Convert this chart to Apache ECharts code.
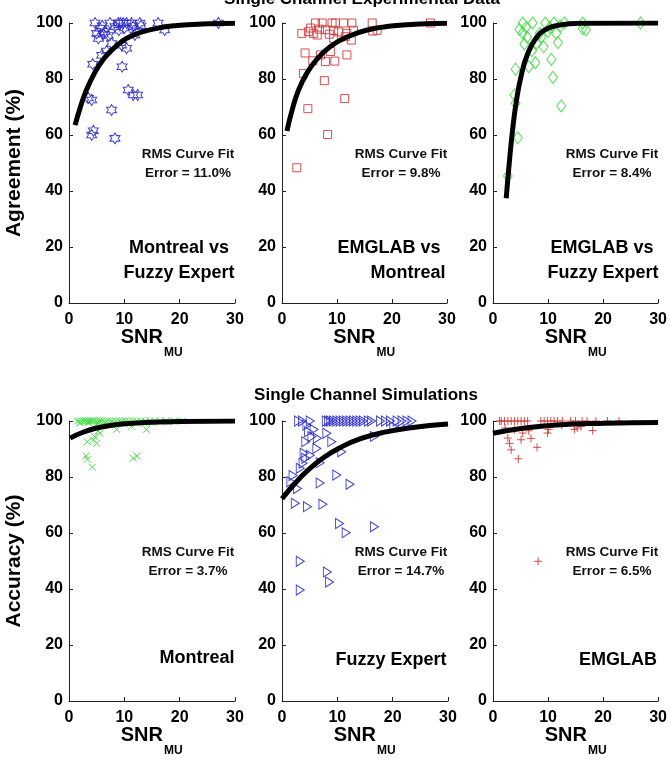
<!DOCTYPE html>
<html><head><meta charset="utf-8">
<script src="https://cdn.jsdelivr.net/npm/echarts@6/dist/echarts.min.js"></script>
<style>html,body{margin:0;padding:0;background:#fff}#c{width:670px;height:761px}</style>
</head><body><div id="c"></div>
<script>
// ---- values: [SNR_MU, % agreement / accuracy] ----
const montrealVsFuzzy = [[4.7,100],[5.6,98.1],[5.0,96.3],[6.5,96.9],[7.4,100],[8.3,98.7],[8.9,100],[9.3,100],[9.8,100],[10.4,100],[11.3,100],[12.8,100],[11.6,98.7],[11.9,95.7],[16.1,100],[17.3,97.5],[27.0,100],[6.2,96.0],[7.1,95.5],[5.9,88.5],[6.8,90.0],[7.7,92.7],[9.5,92.1],[10.4,91.0],[4.3,85.3],[9.6,84.4],[3.5,73.2],[4.1,72.5],[10.7,76.1],[11.6,74.3],[12.4,74.3],[7.7,68.9],[4.4,61.5],[4.1,60.0],[8.3,58.8],[10.0,98.2],[12.3,97.2],[13.0,99.0],[9.0,97.4],[6.0,99.0],[5.3,94.5]];
const emglabVsMontreal = [[2.7,48.3],[8.3,60.2],[4.7,69.4],[11.4,73.0],[7.7,79.4],[3.9,82.0],[4.2,89.3],[7.0,88.6],[5.6,86.5],[8.8,89.8],[7.9,86.2],[9.6,86.4],[11.8,88.6],[12.6,93.9],[3.6,96.3],[4.8,96.9],[5.7,96.3],[6.4,95.7],[6.1,100],[7.3,100],[9.1,100],[9.7,100],[11.2,100],[12.7,100],[16.4,100],[27.0,100],[7.9,97.6],[9.4,97.4],[10.3,96.8],[11.8,96.3],[13.0,97.4],[16.5,97.1],[17.3,97.4],[11.5,95.1],[9.4,94.5],[5.2,98.2],[6.8,97.8],[8.6,96.0]];
const emglabVsFuzzy = [[2.7,45.4],[4.5,59.0],[3.9,74.3],[4.1,71.3],[4.1,83.5],[6.5,84.4],[7.7,85.8],[10.6,87.0],[10.9,80.6],[12.4,70.4],[7.1,90.1],[9.2,91.5],[11.8,93.0],[5.4,96.5],[4.8,97.7],[5.4,100],[7.2,100],[9.5,100],[11.1,100],[13.0,100],[16.3,100],[26.8,100],[8.5,96.3],[10.0,97.0],[11.5,96.3],[16.9,97.5],[16.3,98.0],[6.2,94.9],[7.9,92.7],[6.0,98.5],[8.8,95.0],[10.3,98.5],[12.2,99.0],[5.7,92.5]];

const simMontreal = [[1.5,100],[1.9,100],[2.3,100],[2.7,100],[3.0,100],[3.3,100],[3.6,100],[4.0,100],[4.3,100],[4.6,100],[5.0,100],[5.4,100],[5.8,100],[6.3,100],[6.8,100],[7.3,100],[7.8,100],[8.4,100],[9.0,100],[9.6,100],[10.2,100],[10.9,100],[11.5,100],[12.2,100],[13.0,100],[13.8,100],[14.6,100],[15.5,100],[16.5,100],[17.5,100],[19.0,100],[20.5,100],[2.0,99.3],[3.5,99.4],[5.2,99.2],[6.5,99.3],[8.0,99.0],[9.5,99.4],[11.0,99.2],[13.5,99.3],[15.0,99.5],[18.0,99.6],[3.3,92.6],[4.4,93.2],[5.0,92.0],[5.6,95.6],[3.1,87.5],[3.3,86.3],[4.2,83.5],[11.6,86.7],[12.3,87.5],[8.6,97.0],[11.3,98.0],[14.0,97.0],[4.6,94.5],[5.3,96.5]];
const simFuzzy = [[3.0,100],[3.7,100],[5.1,100],[8.0,100],[8.4,100],[8.8,100],[9.3,100],[9.9,100],[10.5,100],[11.1,100],[11.7,100],[12.3,100],[12.9,100],[13.5,100],[14.1,100],[14.7,100],[15.6,100],[16.2,100],[17.8,100],[18.7,100],[19.6,100],[20.8,100],[21.7,100],[22.6,100],[23.5,100],[4.8,96.2],[4.3,92.6],[5.4,94.4],[6.4,93.8],[8.1,95.6],[9.0,92.6],[10.8,89.0],[6.3,90.2],[5.1,87.8],[4.3,86.7],[3.8,84.9],[3.3,83.1],[6.9,85.1],[1.6,78.3],[2.8,75.9],[6.9,77.9],[9.9,80.7],[12.3,77.4],[2.4,70.6],[4.6,69.4],[7.4,70.3],[10.4,63.4],[11.6,60.1],[16.7,62.2],[3.3,49.9],[8.2,46.1],[8.6,42.5],[3.3,39.6],[16.7,94.5],[20.2,98.0],[4.5,98.5],[5.8,97.0],[4.0,88.5],[2.0,80.5]];
const simEmglab = [[1.2,100],[1.5,100],[2.1,100],[2.7,100],[3.3,100],[3.9,100],[4.5,100],[5.1,100],[5.7,100],[6.3,100],[8.7,100],[9.3,100],[9.9,100],[10.5,100],[11.1,100],[11.7,100],[12.6,100],[14.1,100],[15.0,100],[16.2,100],[17.1,100],[18.7,100],[20.8,100],[22.9,100],[2.7,93.9],[3.3,89.7],[4.6,86.5],[8.0,90.6],[5.1,93.3],[5.4,95.7],[9.9,95.7],[10.1,97.0],[15.3,97.5],[18.1,96.6],[3.9,96.9],[8.2,49.9],[3.0,92.0],[6.9,93.8],[14.8,97.0],[2.2,97.5],[6.5,96.5],[12.5,98.5],[16.0,98.0]];

// fitted curves, sampled along each drawn line
const fitMontrealVsFuzzyX = [1.1,2,3,4.4,6.2,8.6,11.6,15.2,19.5,25,30];
const fitMontrealVsFuzzyY = [63.5,69.6,75.3,81.3,87.0,91.9,95.6,97.8,99.1,99.7,99.9];
const fitEmglabVsMontrealX = [0.9,1.8,3,4.5,6.4,8.8,11.8,15.5,20.3,25,30];
const fitEmglabVsMontrealY = [61.4,68.6,76.0,82.0,87.2,91.6,95.0,97.5,99.0,99.6,99.9];
const fitEmglabVsFuzzyX = [2.4,3,3.6,4.2,5.1,6.3,7.9,9.7,12.1,16,30];
const fitEmglabVsFuzzyY = [37.4,51,62.5,71.5,81.0,89.0,94.8,97.8,99.3,99.9,100];
const fitSimMontrealX = [0.2,2.3,4.8,7.8,10,13.8,20,30];
const fitSimMontrealY = [93.9,95.8,97.4,98.5,99,99.5,99.8,100];
const fitSimFuzzyX = [0,2.2,4.6,7.3,10.3,14.2,18.8,23.3,30];
const fitSimFuzzyY = [72.2,77.4,82.3,86.6,90.3,93.7,96.1,97.6,98.9];
const fitSimEmglabX = [0,5.4,11.5,20.5,30];
const fitSimEmglabY = [95.6,97.4,98.6,99.2,99.5];

const rmsErrors = ['11.0%','9.8%','8.4%','3.7%','14.7%','6.5%'];
const panelLabels = [['Montreal vs','Fuzzy Expert'],['EMGLAB vs','Montreal'],['EMGLAB vs','Fuzzy Expert'],['Montreal'],['Fuzzy Expert'],['EMGLAB']];
const rowTitles = ['Single Channel Experimental Data','Single Channel Simulations'];
const yNames = ['Agreement (%)','Accuracy (%)'];
const xTicks = [0,10,20,30];
const yTicks = [0,20,40,60,80,100];

const FONT = '"Liberation Sans", Arial, Helvetica, sans-serif';
const BLUE = '#2f2fc8', RED = '#d23a3a', GREEN = '#3ddc3d';

const hexagram = 'path://M0,-10L-2.89,-5L-8.66,-5L-5.77,0L-8.66,5L-2.89,5L0,10L2.89,5L8.66,5L5.77,0L8.66,-5L2.89,-5Z';
const crossX = 'path://M0,0L10,10M10,0L0,10';
const plus = 'path://M5,0L5,10M0,5L10,5';
const triRight = 'path://M0,0L10,5L0,10Z';

const panels = [
  {left:69,  top:23,  width:166, height:280},
  {left:282, top:23,  width:165, height:280},
  {left:493, top:23,  width:166, height:280},
  {left:69,  top:421, width:166, height:280},
  {left:282, top:421, width:166, height:280},
  {left:493, top:421, width:166, height:280}
];

const scatterSets = [
  {data: montrealVsFuzzy, symbol: hexagram, size: [10,11], color: BLUE},
  {data: emglabVsMontreal, symbol: 'rect', size: 8, color: RED},
  {data: emglabVsFuzzy, symbol: 'diamond', size: [9,12], color: GREEN},
  {data: simMontreal, symbol: crossX, size: 7, color: GREEN},
  {data: simFuzzy, symbol: triRight, size: [8,10], color: BLUE},
  {data: simEmglab, symbol: plus, size: 8, color: RED}
];
const fits = [
  [fitMontrealVsFuzzyX, fitMontrealVsFuzzyY],
  [fitEmglabVsMontrealX, fitEmglabVsMontrealY],
  [fitEmglabVsFuzzyX, fitEmglabVsFuzzyY],
  [fitSimMontrealX, fitSimMontrealY],
  [fitSimFuzzyX, fitSimFuzzyY],
  [fitSimEmglabX, fitSimEmglabY]
];

const tickLabel = {color:'#000', fontFamily: FONT, fontWeight:'bold', fontSize:16};
const axisLine = {show:true, lineStyle:{color:'#222', width:1}};

const grid = [], xAxis = [], yAxis = [], series = [], graphic = [];

panels.forEach((p, i) => {
  grid.push({left:p.left, top:p.top, width:p.width, height:p.height, containLabel:false});
  xAxis.push({
    gridIndex:i, type:'value', min:0, max:30, interval:10,
    axisLine, axisTick:{show:true, inside:true, length:4, lineStyle:{color:'#222'}},
    axisLabel:{...tickLabel, margin:9, formatter: v => xTicks.includes(v) ? String(v) : ''},
    splitLine:{show:false}
  });
  const firstInRow = i % 3 === 0;
  yAxis.push({
    gridIndex:i, type:'value', min:0, max:100, interval:20,
    axisLine, axisTick:{show:true, inside:true, length:4, lineStyle:{color:'#222'}},
    axisLabel:{...tickLabel, margin:6, formatter: v => yTicks.includes(v) ? String(v) : ''},
    splitLine:{show:false},
    name: firstInRow ? yNames[i/3] : '',
    nameLocation:'middle', nameGap:44, nameRotate:90,
    nameTextStyle:{color:'#000', fontFamily:FONT, fontWeight:'bold', fontSize:21}
  });

  const s = scatterSets[i];
  series.push({
    type:'scatter', xAxisIndex:i, yAxisIndex:i, data:s.data,
    symbol:s.symbol, symbolSize:s.size,
    itemStyle:{color:'rgba(0,0,0,0)', borderColor:s.color, borderWidth:1, opacity:0.9},
    z:2, silent:true
  });
  const fx = fits[i][0], fy = fits[i][1];
  series.push({
    type:'line', xAxisIndex:i, yAxisIndex:i,
    data: fx.map((x, k) => [x, fy[k]]),
    smooth:0.5, showSymbol:false, symbol:'none',
    lineStyle:{color:'#000', width:5, cap:'butt', join:'round'},
    z:3, silent:true
  });

  // x axis name with subscript
  const cx = p.left + p.width / 2;
  const by = p.top + p.height;
  graphic.push({type:'text', x:cx + 11, y:by + 34,
    style:{text:'SNR', fill:'#000', font:'bold 20px ' + FONT, align:'right', verticalAlign:'middle'}});
  graphic.push({type:'text', x:cx + 12, y:by + 50,
    style:{text:'MU', fill:'#000', font:'bold 12px ' + FONT, align:'left', verticalAlign:'middle'}});

  // RMS annotation
  graphic.push({type:'text', x:p.left + 119, y:p.top + 131,
    style:{text:'RMS Curve Fit', fill:'#111', font:'bold 13.5px ' + FONT, align:'center', verticalAlign:'middle'}});
  graphic.push({type:'text', x:p.left + 119, y:p.top + 150,
    style:{text:'Error = ' + rmsErrors[i], fill:'#111', font:'bold 13.5px ' + FONT, align:'center', verticalAlign:'middle'}});
});

// panel labels
const labelPos = [
  [[179,248],[179,273]],
  [[389,248],[408,273]],
  [[602,248],[603,273]],
  [[197,658]],
  [[391,660]],
  [[618,660]]
];
panelLabels.forEach((lines, i) => {
  lines.forEach((t, k) => {
    graphic.push({type:'text', x:labelPos[i][k][0], y:labelPos[i][k][1],
      style:{text:t, fill:'#000', font:'bold 18px ' + FONT, align:'center', verticalAlign:'middle'}});
  });
});

// row titles
graphic.push({type:'text', x:362, y:-1,
  style:{text:rowTitles[0], fill:'#000', font:'bold 17px ' + FONT, align:'center', verticalAlign:'middle'}});
graphic.push({type:'text', x:366, y:395,
  style:{text:rowTitles[1], fill:'#000', font:'bold 17px ' + FONT, align:'center', verticalAlign:'middle'}});

const chart = echarts.init(document.getElementById('c'), null, {renderer:'canvas'});
chart.setOption({
  animation:false,
  backgroundColor:'#fff',
  grid, xAxis, yAxis, series, graphic
});
</script></body></html>
